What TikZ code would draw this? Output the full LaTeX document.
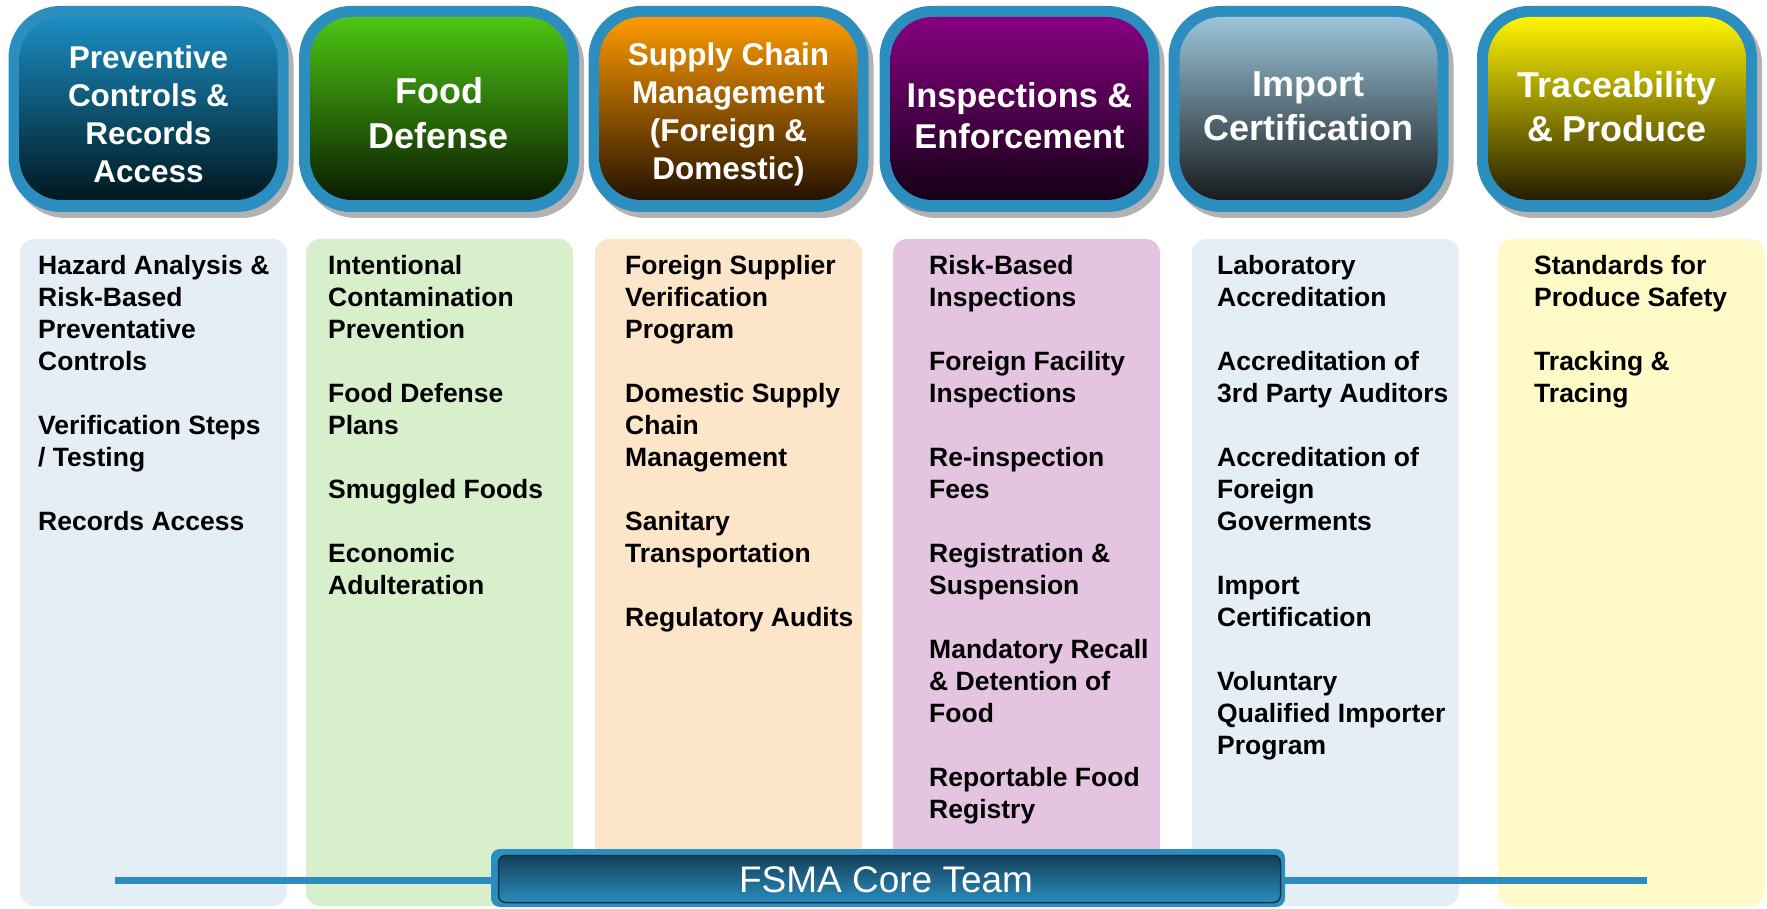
\documentclass[tikz,border=0pt]{standalone}
\usepackage{fontspec}
\setmainfont{Liberation Sans}
\definecolor{hblue}{HTML}{2C8EBF}
\definecolor{lblue}{HTML}{2C8CBE}
\definecolor{cA}{HTML}{E6EEF5}
\definecolor{cB}{HTML}{D7F0CB}
\definecolor{cC}{HTML}{FDE5C9}
\definecolor{cD}{HTML}{E4C4E1}
\definecolor{cE}{HTML}{E6EEF5}
\definecolor{cF}{HTML}{FFFAC8}
\definecolor{t1}{HTML}{1B8EC2}\definecolor{b1}{HTML}{001820}
\definecolor{t2}{HTML}{4EC614}\definecolor{b2}{HTML}{0A1C00}
\definecolor{t3}{HTML}{FF9A00}\definecolor{b3}{HTML}{241200}
\definecolor{t4}{HTML}{880082}\definecolor{b4}{HTML}{140016}
\definecolor{t5}{HTML}{9CC5DA}\definecolor{b5}{HTML}{171B1E}
\definecolor{t6}{HTML}{FFF500}\definecolor{b6}{HTML}{241C00}
\definecolor{bartop}{HTML}{14405A}
\definecolor{barbot}{HTML}{2A8CBD}
\definecolor{baredge}{HTML}{0F3347}
\begin{document}
\begin{tikzpicture}[x=1pt,y=1pt,
  hshadow/.style={fill=black!30, rounded corners=52pt, minimum width=280pt, minimum height=206pt, inner sep=0pt},
  hout/.style={fill=hblue, rounded corners=52pt, minimum width=280pt, minimum height=206pt, inner sep=0pt},
  hin/.style 2 args={top color=#1, bottom color=#2, rounded corners=42pt, minimum width=258pt, minimum height=183pt, inner sep=0pt},
  htext/.style={text=white, align=center, inner sep=0pt},
  colbox/.style={fill=#1, rounded corners=14pt, minimum width=267pt, minimum height=667pt, inner sep=0pt},
  ctext/.style={anchor=north west, align=left, inner sep=0pt, font=\bfseries\fontsize{26.5}{32}\selectfont}
]
\useasboundingbox (0,0) rectangle (1767,908);

% content columns
\node[colbox=cA] (c1) at (153.5,335.5) {};
\node[colbox=cB] (c2) at (439.5,335.5) {};
\node[colbox=cC] (c3) at (728.5,335.5) {};
\node[colbox=cD] (c4) at (1026.5,335.5) {};
\node[colbox=cE] (c5) at (1325.5,335.5) {};
\node[colbox=cF] (c6) at (1631,335.5) {};

\node[ctext] (x1) at (38,652.5) {Hazard Analysis \&\\Risk-Based\\Preventative\\Controls\\[32pt]Verification Steps\\/ Testing\\[32pt]Records Access};
\node[ctext] (x2) at (328,652.5) {Intentional\\Contamination\\Prevention\\[32pt]Food Defense\\Plans\\[32pt]Smuggled Foods\\[32pt]Economic\\Adulteration};
\node[ctext] (x3) at (625,652.5) {Foreign Supplier\\Verification\\Program\\[32pt]Domestic Supply\\Chain\\Management\\[32pt]Sanitary\\Transportation\\[32pt]Regulatory Audits};
\node[ctext] (x4) at (929,652.5) {Risk-Based\\Inspections\\[32pt]Foreign Facility\\Inspections\\[32pt]Re-inspection\\Fees\\[32pt]Registration \&\\Suspension\\[32pt]Mandatory Recall\\\& Detention of\\Food\\[32pt]Reportable Food\\Registry};
\node[ctext] (x5) at (1217,652.5) {Laboratory\\Accreditation\\[32pt]Accreditation of\\3rd Party Auditors\\[32pt]Accreditation of\\Foreign\\Goverments\\[32pt]Import\\Certification\\[32pt]Voluntary\\Qualified Importer\\Program};
\node[ctext] (x6) at (1534,652.5) {Standards for\\Produce Safety\\[32pt]Tracking \&\\Tracing};

% core team line and bar
\coordinate (lineL) at (115,28);
\coordinate (lineR) at (1647,28);
\draw[line width=7pt, lblue] (lineL) -- (lineR);
\node[fill=hblue, rounded corners=9pt, minimum width=794pt, minimum height=58pt, inner sep=0pt] (bar) at (888,30) {};
\node[top color=bartop, bottom color=barbot, draw=baredge, line width=1.5pt, rounded corners=7pt, minimum width=782pt, minimum height=47pt, inner sep=0pt] (barin) at (889.5,29) {};
\node[text=white, inner sep=0pt, font=\fontsize{37}{44}\selectfont] (bartext) at (886,28) {FSMA Core Team};

% headers
\foreach \i/\cx in {1/148.5,2/439,3/728.5,4/1019.5,5/1308.5,6/1617}{
  \node[hshadow] (s\i) at (\cx+5,793) {};
  \node[hout] (h\i) at (\cx,799) {};
  \node[hin={t\i}{b\i}] (g\i) at (\cx,799.5) {};
}
\node[htext, font=\bfseries\fontsize{31.5}{38}\selectfont] (l1) at (148.5,794) {Preventive\\Controls \&\\Records\\Access};
\node[htext, font=\bfseries\fontsize{36}{45}\selectfont] (l2) at (439,795) {Food\\Defense};
\node[htext, font=\bfseries\fontsize{31.5}{38}\selectfont] (l3) at (728.5,794) {Supply Chain\\Management\\(Foreign \&\\Domestic)};
\node[htext, font=\bfseries\fontsize{34.4}{40.6}\selectfont] (l4) at (1019.5,792) {Inspections \&\\Enforcement};
\node[htext, font=\bfseries\fontsize{36}{44}\selectfont] (l5) at (1308.5,801.5) {Import\\Certification};
\node[htext, font=\bfseries\fontsize{36}{44}\selectfont] (l6) at (1617,801.5) {Traceability\\\& Produce};
\end{tikzpicture}
\end{document}
